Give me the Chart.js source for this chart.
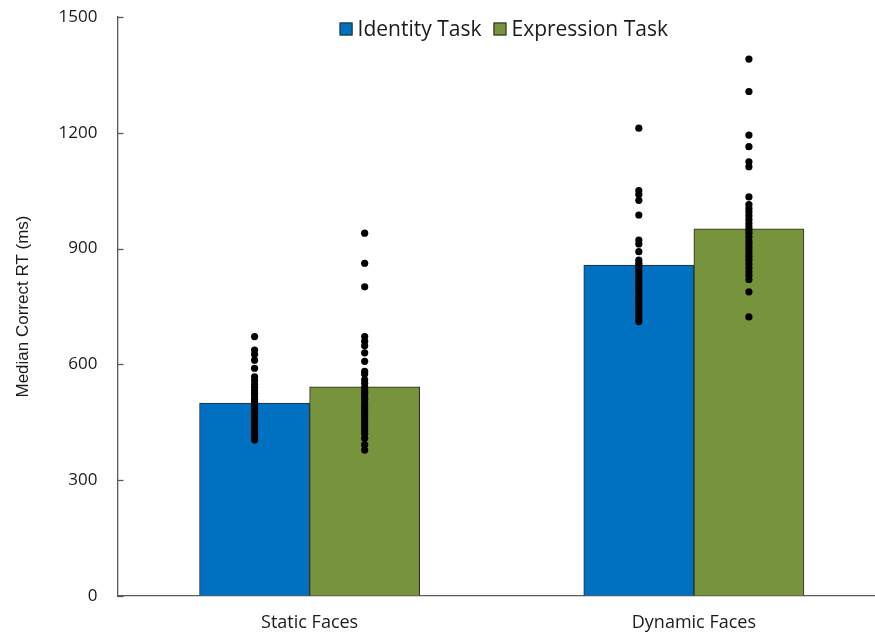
<!DOCTYPE html>
<html>
<head>
<meta charset="utf-8">
<script src="https://cdn.jsdelivr.net/npm/chart.js@4/dist/chart.umd.min.js"></script>
<style>
  html, body { margin: 0; padding: 0; background: #fff; overflow: hidden; }
  #wrap { width: 890px; height: 637px; position: relative; }
</style>
</head>
<body>
<div id="wrap"><canvas id="rt"></canvas></div>
<script>
// Conditions and task series
const categories = ['Static Faces', 'Dynamic Faces'];
const seriesNames = ['Identity Task', 'Expression Task'];

// Group medians (bar heights, ms)
const identityMedians = [500, 857];
const expressionMedians = [542, 951];

// Individual participant median correct RTs (ms)
const staticIdentity = [672, 637, 626, 611, 590, 568, 558, 548, 540, 532, 525, 518, 510, 503, 497, 490,
  484, 478, 472, 466, 460, 455, 450, 445, 440, 435, 430, 425, 420, 415, 410, 404];
const staticExpression = [940, 862, 801, 672, 660, 648, 630, 608, 582, 575, 560, 551, 540, 532, 525, 518,
  510, 500, 492, 485, 478, 470, 462, 455, 446, 438, 430, 421, 409, 392, 378];
const dynamicIdentity = [1212, 1050, 1040, 1025, 987, 922, 912, 892, 870, 862, 855, 848, 840, 832, 825, 818,
  810, 802, 795, 788, 780, 772, 765, 758, 750, 742, 735, 727, 718, 711];
const dynamicExpression = [1391, 1307, 1194, 1164, 1125, 1112, 1034, 1014, 1004, 995, 985, 975, 965, 956, 948, 940,
  930, 920, 912, 903, 895, 886, 878, 870, 860, 850, 840, 830, 820, 788, 723];

// Y axis ticks
const yTicks = [0, 300, 600, 900, 1200, 1500];

const colors = ['#0070C0', '#77933C'];
// share of each condition slot filled by its pair of bars
const groupShare = 0.573;
// centre of each bar relative to its condition, in condition units
const barOffset = groupShare / 4;

function barPoints(values, side) {
  return values.map((v, i) => ({ x: i + side * barOffset, y: v }));
}
function dots(values, catIndex, side) {
  return values.map(v => ({ x: catIndex + side * barOffset, y: v }));
}

const barStyle = {
  type: 'bar',
  grouped: false,
  borderColor: '#2a2a2a',
  borderWidth: 1,
  categoryPercentage: 1,
  barPercentage: 1,
  order: 1
};
const dotStyle = {
  type: 'scatter',
  pointRadius: 3.6,
  pointBackgroundColor: '#000',
  pointBorderWidth: 0,
  order: 0
};

// Inward tick marks on the value axis
const innerTicks = {
  id: 'innerTicks',
  afterDraw(chart) {
    const y = chart.scales.y;
    const ctx = chart.ctx;
    const x0 = chart.chartArea.left;
    ctx.save();
    ctx.strokeStyle = '#595959';
    ctx.lineWidth = 1.3;
    yTicks.forEach(t => {
      const py = Math.round(y.getPixelForValue(t)) + 0.5;
      ctx.beginPath();
      ctx.moveTo(x0, py);
      ctx.lineTo(x0 + 6, py);
      ctx.stroke();
    });
    ctx.restore();
  }
};

// Series key drawn inside the top of the plot
const seriesKey = {
  id: 'seriesKey',
  afterDraw(chart) {
    const ctx = chart.ctx;
    const area = chart.chartArea;
    ctx.save();
    ctx.font = '21px "Open Sans"';
    ctx.textBaseline = 'middle';
    const box = 13, gapText = 5, gapItem = 12;
    const widths = seriesNames.map(n => ctx.measureText(n).width);
    const total = widths.reduce((a, w) => a + box + gapText + w, 0) + gapItem * (seriesNames.length - 1);
    let x = (area.left + area.right) / 2 - total / 2 + 2;
    const cy = 29;
    seriesNames.forEach((name, i) => {
      ctx.fillStyle = colors[i];
      ctx.fillRect(x, cy - box / 2, box, box);
      ctx.strokeStyle = '#2a2a2a';
      ctx.lineWidth = 1;
      ctx.strokeRect(x + 0.5, cy - box / 2 + 0.5, box - 1, box - 1);
      x += box + gapText;
      ctx.fillStyle = '#1a1a1a';
      ctx.fillText(name, x, cy + 1);
      x += widths[i] + gapItem;
    });
    ctx.restore();
  }
};

new Chart(document.getElementById('rt'), {
  type: 'bar',
  data: {
    datasets: [
      Object.assign({ label: seriesNames[0], data: barPoints(identityMedians, -1), backgroundColor: colors[0] }, barStyle),
      Object.assign({ label: seriesNames[1], data: barPoints(expressionMedians, 1), backgroundColor: colors[1] }, barStyle),
      Object.assign({ label: 'Static identity', data: dots(staticIdentity, 0, -1) }, dotStyle),
      Object.assign({ label: 'Static expression', data: dots(staticExpression, 0, 1) }, dotStyle),
      Object.assign({ label: 'Dynamic identity', data: dots(dynamicIdentity, 1, -1) }, dotStyle),
      Object.assign({ label: 'Dynamic expression', data: dots(dynamicExpression, 1, 1) }, dotStyle)
    ]
  },
  options: {
    responsive: true,
    maintainAspectRatio: false,
    animation: false,
    layout: { padding: { top: 17, right: 1.5, bottom: 0, left: 0 } },
    plugins: {
      legend: { display: false },
      tooltip: { enabled: false }
    },
    scales: {
      x: {
        type: 'linear',
        offset: false,
        min: -0.5,
        max: 1.5,
        afterBuildTicks(scale) {
          scale.ticks = categories.map((c, i) => ({ value: i }));
        },
        afterFit(scale) { scale.height = 41; },
        grid: { drawOnChartArea: false, drawTicks: false, offset: false },
        border: { display: true, color: '#595959', width: 1.3 },
        ticks: {
          padding: 16,
          color: '#1a1a1a',
          autoSkip: false,
          maxRotation: 0,
          font: { family: '"Open Sans"', size: 18 },
          callback: (v) => categories[v]
        }
      },
      y: {
        min: 0,
        max: 1500,
        afterBuildTicks(scale) {
          scale.ticks = yTicks.map(v => ({ value: v }));
        },
        afterFit(scale) { scale.width = 117.5; },
        grid: { drawOnChartArea: false, drawTicks: true, tickLength: 20, tickColor: 'rgba(0,0,0,0)' },
        border: { display: true, color: '#595959', width: 1.3 },
        ticks: {
          padding: 0,
          color: '#1a1a1a',
          font: { family: '"Open Sans"', size: 17 },
          callback: (v) => String(v)
        },
        title: {
          display: true,
          text: 'Median Correct RT (ms)',
          color: '#1a1a1a',
          padding: { top: 13, bottom: 0 },
          font: { family: '"Liberation Sans", Arial, sans-serif', size: 17 }
        }
      }
    }
  },
  plugins: [innerTicks, seriesKey]
});
</script>
</body>
</html>
